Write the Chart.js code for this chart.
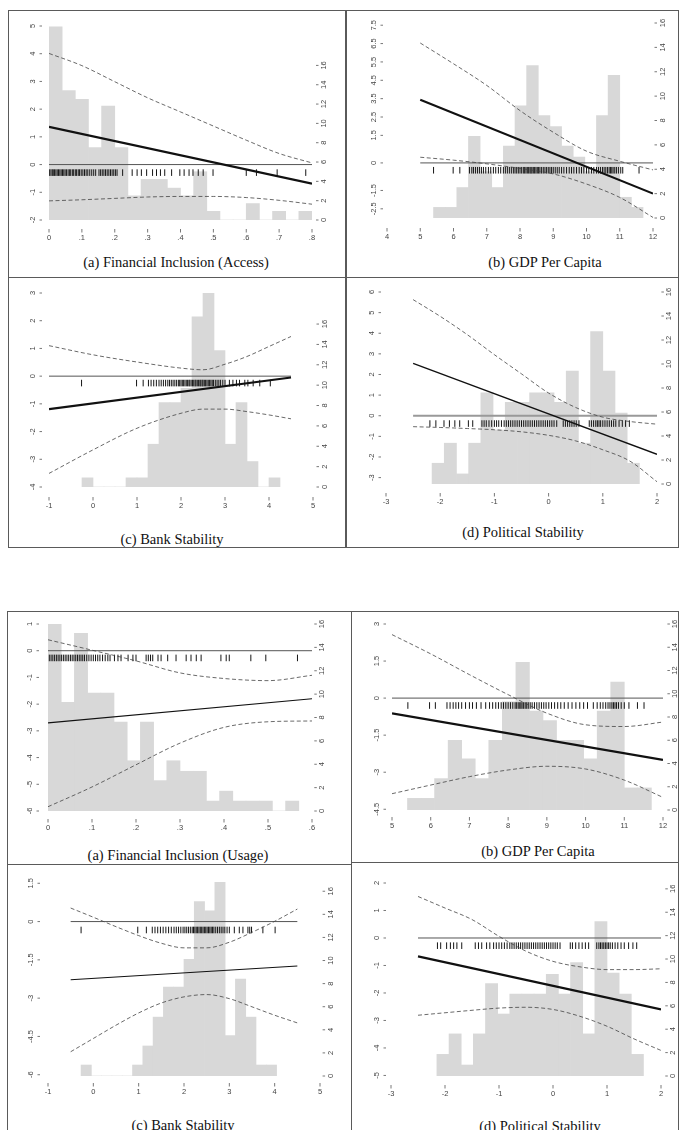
<!DOCTYPE html>
<html>
<head>
<meta charset="utf-8">
<script src="https://cdn.jsdelivr.net/npm/chart.js@4.4.0/dist/chart.umd.min.js"></script>
<style>
  body { margin: 0; background: #fff; width: 679px; height: 1130px; position: relative; overflow: hidden; }
  .frame { position: absolute; border: 1.5px solid #5a5a5a; box-sizing: border-box; }
  .title { position: absolute; font: 14.5px "Liberation Serif", "Times New Roman", serif; color: #111;
           white-space: nowrap; line-height: 15px; transform: translate(-50%, -50%); }
</style>
</head>
<body>
<script>
// shared axis ticks
const freqTicks = [0, 2, 4, 6, 8, 10, 12, 14, 16];

// (a) Financial Inclusion (Access)
const accXTicks = [0, 0.1, 0.2, 0.3, 0.4, 0.5, 0.6, 0.7, 0.8];
const accYTicks = [-2, -1, 0, 1, 2, 3, 4, 5];
const accBins = [0.02, 0.06, 0.10, 0.14, 0.18, 0.22, 0.26, 0.30, 0.34, 0.38, 0.42, 0.46, 0.50, 0.54, 0.58, 0.62, 0.66, 0.70, 0.74, 0.78];
const accCounts = [20, 13.4, 12.5, 7.5, 11.8, 7.5, 2.5, 4.2, 4.2, 3.3, 2.5, 5, 0.9, 0, 0, 1.7, 0, 0.9, 0, 0.9];
const accRug = [0.002, 0.006, 0.010, 0.013, 0.017, 0.021, 0.025, 0.029, 0.033, 0.037, 0.041, 0.045, 0.049, 0.053,
  0.058, 0.062, 0.066, 0.071, 0.075, 0.080, 0.084, 0.089, 0.093, 0.098, 0.103, 0.108, 0.113, 0.118, 0.124, 0.130,
  0.136, 0.142, 0.152, 0.157, 0.162, 0.167, 0.172, 0.177, 0.182, 0.187, 0.192, 0.197, 0.202, 0.207, 0.224,
  0.253, 0.268, 0.281, 0.297, 0.315, 0.327, 0.339, 0.352, 0.373, 0.398, 0.411, 0.426, 0.438, 0.454, 0.469,
  0.499, 0.600, 0.631, 0.694, 0.781];
const accCiX = [0, 0.1, 0.2, 0.3, 0.4, 0.5, 0.6, 0.7, 0.8];
const accUpper = [4.01, 3.57, 2.99, 2.41, 1.90, 1.39, 0.88, 0.40, 0.06];
const accLower = [-1.31, -1.27, -1.22, -1.17, -1.15, -1.15, -1.19, -1.29, -1.43];
const accEstX = [0, 0.8];
const accEst = [1.36, -0.69];

// (b) GDP Per Capita, access model
const gdpXTicks1 = [4, 5, 6, 7, 8, 9, 10, 11, 12];
const gdpYTicks1 = [-2.5, -1.5, 0, 1.5, 2.5, 3.5, 4.5, 5.5, 6.5, 7.5];
const gdpBins = [5.575, 5.925, 6.275, 6.625, 6.975, 7.325, 7.675, 8.025, 8.375, 8.725, 9.075, 9.425, 9.775, 10.125, 10.475, 10.825, 11.175, 11.525];
const gdpCounts1 = [0.87, 0.87, 2.5, 6.7, 3.8, 2.5, 5.9, 9.2, 12.5, 8.4, 7.5, 5.9, 5.0, 3.8, 8.4, 11.7, 1.7, 0.87];
const gdpRug1 = [5.40, 5.99, 6.19, 6.48, 6.55, 6.6, 6.66, 6.72, 6.78, 6.84, 6.9, 6.97, 7.05, 7.12, 7.2, 7.27, 7.35,
  7.42, 7.5, 7.56, 7.62, 7.68, 7.74, 7.8, 7.85, 7.9, 7.95, 8.0, 8.05, 8.1, 8.14, 8.18, 8.22, 8.26, 8.3, 8.33, 8.36,
  8.4, 8.44, 8.48, 8.52, 8.56, 8.6, 8.65, 8.7, 8.75, 8.8, 8.85, 8.9, 8.95, 9.0, 9.06, 9.12, 9.18, 9.25, 9.32, 9.4,
  9.48, 9.55, 9.62, 9.7, 9.78, 9.85, 9.92, 10.0, 10.07, 10.15, 10.22, 10.3, 10.36, 10.42, 10.48, 10.53, 10.58,
  10.63, 10.68, 10.72, 10.76, 10.8, 10.85, 10.9, 10.96, 11.03, 11.09, 11.58];
const gdpCiX = [5, 6, 7, 8, 9, 10, 11, 12];
const gdpUpper1 = [6.53, 5.40, 4.22, 2.85, 1.67, 0.64, 0.09, -0.38];
const gdpLower1 = [0.31, 0.15, -0.05, -0.30, -0.60, -1.15, -1.88, -2.97];
const gdpEstX = [5, 12];
const gdpEst1 = [3.44, -1.67];

// (c) Bank Stability, access model
const bankXTicks = [-1, 0, 1, 2, 3, 4, 5];
const bankYTicks1 = [-4, -3, -2, -1, 0, 1, 2, 3];
const bankBins1 = [-0.125, 0.125, 0.375, 0.625, 0.875, 1.125, 1.375, 1.625, 1.875, 2.125, 2.375, 2.625, 2.875, 3.125, 3.375, 3.625, 3.875, 4.125];
const bankCounts1 = [0.9, 0, 0, 0, 0.9, 0.9, 4.2, 8.3, 8.3, 9.7, 16.7, 19.1, 13.4, 4.2, 8.3, 2.5, 0, 0.9];
const bankRug1 = [-0.26, 0.99, 1.14, 1.26, 1.32, 1.38, 1.44, 1.5, 1.55, 1.6, 1.65, 1.7, 1.74, 1.78, 1.82, 1.86, 1.9,
  1.94, 1.97, 2.0, 2.03, 2.06, 2.09, 2.12, 2.15, 2.18, 2.2, 2.23, 2.26, 2.29, 2.32, 2.34, 2.37, 2.4, 2.43, 2.45,
  2.48, 2.5, 2.53, 2.56, 2.59, 2.62, 2.65, 2.68, 2.71, 2.74, 2.78, 2.82, 2.86, 2.9, 2.95, 3.0, 3.1, 3.18, 3.26,
  3.33, 3.45, 3.52, 3.64, 3.79, 4.03];
const bankCiX1 = [-1, 0, 1, 2, 2.5, 3, 3.5, 4, 4.5];
const bankUpper1 = [1.10, 0.77, 0.51, 0.29, 0.23, 0.43, 0.71, 1.07, 1.43];
const bankLower1 = [-3.51, -2.66, -1.88, -1.34, -1.19, -1.19, -1.28, -1.40, -1.54];
const bankEstX1 = [-1, 4.5];
const bankEst1 = [-1.19, -0.05];

// (d) Political Stability, access model
const polXTicks = [-3, -2, -1, 0, 1, 2];
const polYTicks1 = [-3, -2, -1, 0, 1, 2, 3, 4, 5, 6];
const polBins = [-2.0375, -1.8125, -1.5875, -1.3625, -1.1375, -0.9125, -0.6875, -0.4625, -0.2375, -0.0125, 0.2125, 0.4375, 0.6625, 0.8875, 1.1125, 1.3375, 1.5625];
const polCounts1 = [1.73, 3.4, 0.84, 3.4, 7.6, 4.5, 6.8, 6.8, 7.6, 7.6, 6.8, 9.4, 3.4, 12.7, 9.4, 5.9, 1.73];
const polRug1 = [-2.19, -2.08, -1.93, -1.83, -1.73, -1.64, -1.48, -1.4, -1.23, -1.19, -1.15, -1.1, -1.05, -1.0, -0.96,
  -0.92, -0.87, -0.82, -0.78, -0.74, -0.7, -0.66, -0.62, -0.58, -0.54, -0.5, -0.46, -0.42, -0.38, -0.34, -0.3,
  -0.26, -0.22, -0.18, -0.14, -0.1, -0.06, -0.02, 0.02, 0.06, 0.1, 0.15, 0.27, 0.31, 0.35, 0.39, 0.43, 0.47, 0.51,
  0.56, 0.75, 0.79, 0.83, 0.87, 0.9, 0.93, 0.96, 1.0, 1.04, 1.08, 1.12, 1.16, 1.2, 1.24, 1.3, 1.36, 1.42, 1.49];
const polCiX = [-2.5, -2, -1.5, -1, -0.5, 0, 0.5, 1, 1.5, 2];
const polUpper1 = [5.63, 4.82, 3.93, 2.96, 2.03, 1.10, 0.40, -0.07, -0.28, -0.41];
const polLower1 = [-0.53, -0.57, -0.62, -0.68, -0.78, -0.95, -1.22, -1.65, -2.2, -3.2];
const polEstX = [-2.5, 2];
const polEst1 = [2.54, -1.87];

// (a) Financial Inclusion (Usage)
const useXTicks = [0, 0.1, 0.2, 0.3, 0.4, 0.5, 0.6];
const useYTicks = [-6, -5, -4, -3, -2, -1, 0, 1];
const useBins = [0.015, 0.045, 0.075, 0.105, 0.135, 0.165, 0.195, 0.225, 0.255, 0.285, 0.315, 0.345, 0.375, 0.405, 0.435, 0.465, 0.495, 0.525, 0.555];
const useCounts = [16.0, 9.3, 15.2, 10.1, 10.1, 7.6, 4.3, 7.6, 2.6, 4.3, 3.4, 3.4, 0.85, 1.7, 0.85, 0.85, 0.85, 0, 0.85];
const useRug = [0.003, 0.007, 0.011, 0.015, 0.019, 0.023, 0.027, 0.031, 0.035, 0.039, 0.043, 0.047, 0.051, 0.055,
  0.059, 0.063, 0.067, 0.071, 0.075, 0.079, 0.083, 0.088, 0.093, 0.098, 0.103, 0.108, 0.113, 0.118, 0.124, 0.13,
  0.136, 0.141, 0.151, 0.159, 0.166, 0.182, 0.193, 0.2, 0.223, 0.228, 0.233, 0.238, 0.25, 0.257, 0.272, 0.291,
  0.314, 0.325, 0.337, 0.348, 0.393, 0.405, 0.412, 0.461, 0.495, 0.567];
const useCiX = [0, 0.1, 0.2, 0.3, 0.4, 0.5, 0.6];
const useUpper = [0.41, 0.02, -0.38, -0.83, -1.04, -1.12, -0.92];
const useLower = [-5.84, -5.10, -4.27, -3.46, -2.87, -2.66, -2.63];
const useEstX = [0, 0.6];
const useEst = [-2.70, -1.80];

// (b) GDP Per Capita, usage model
const gdpXTicks2 = [5, 6, 7, 8, 9, 10, 11, 12];
const gdpYTicks2 = [-4.5, -3, -1.5, 0, 1.5, 3];
const gdpCounts2 = [1.0, 1.0, 2.7, 6.0, 4.4, 2.7, 6.0, 9.3, 12.7, 8.5, 7.7, 6.0, 6.0, 4.4, 8.5, 11.0, 1.9, 1.9];
const gdpRug2 = [5.41, 5.97, 6.12, 6.42, 6.5, 6.58, 6.65, 6.72, 6.8, 6.9, 7.0, 7.08, 7.18, 7.3, 7.42, 7.52, 7.6,
  7.68, 7.75, 7.82, 7.88, 7.94, 8.0, 8.06, 8.12, 8.18, 8.22, 8.26, 8.3, 8.33, 8.36, 8.4, 8.44, 8.48, 8.52, 8.57,
  8.62, 8.68, 8.74, 8.8, 8.86, 8.92, 8.98, 9.05, 9.12, 9.2, 9.28, 9.36, 9.45, 9.55, 9.65, 9.75, 9.85, 9.95, 10.05,
  10.2, 10.3, 10.38, 10.45, 10.52, 10.58, 10.63, 10.68, 10.72, 10.76, 10.8, 10.85, 10.92, 11.0, 11.12, 11.34, 11.51];
const gdpUpper2 = [2.57, 1.79, 0.95, 0.14, -0.61, -1.08, -1.15, -0.97];
const gdpLower2 = [-3.87, -3.52, -3.18, -2.91, -2.76, -2.87, -3.32, -4.02];
const gdpEst2 = [-0.62, -2.50];

// (c) Bank Stability, usage model
const bankYTicks2 = [-6, -4.5, -3, -1.5, 0, 1.5];
const bankBins2 = [-0.157, 0.07, 0.297, 0.524, 0.751, 0.978, 1.205, 1.432, 1.659, 1.886, 2.113, 2.34, 2.567, 2.794, 3.021, 3.248, 3.475, 3.702, 3.929];
const bankCounts2 = [0.95, 0, 0, 0, 0, 0.95, 2.6, 5.1, 7.7, 7.7, 10.1, 15.1, 14.3, 16.8, 3.5, 8.4, 5.1, 0.95, 0.95];
const bankRug2 = [-0.27, 0.98, 1.17, 1.3, 1.36, 1.42, 1.48, 1.54, 1.6, 1.66, 1.72, 1.78, 1.83, 1.88, 1.93, 1.98,
  2.02, 2.06, 2.1, 2.14, 2.18, 2.21, 2.24, 2.27, 2.3, 2.33, 2.36, 2.39, 2.42, 2.45, 2.48, 2.51, 2.54, 2.57, 2.6,
  2.63, 2.66, 2.7, 2.74, 2.78, 2.82, 2.86, 2.9, 2.95, 3.0, 3.11, 3.22, 3.3, 3.41, 3.45, 3.49, 3.74, 4.01];
const bankCiX2 = [-0.5, 0, 0.5, 1, 1.5, 2, 2.5, 3, 3.5, 4, 4.5];
const bankUpper2 = [0.53, 0.17, -0.20, -0.55, -0.85, -1.03, -1.03, -0.81, -0.42, 0.01, 0.49];
const bankLower2 = [-5.10, -4.58, -4.06, -3.58, -3.19, -2.95, -2.86, -3.02, -3.34, -3.67, -3.97];
const bankEstX2 = [-0.5, 4.5];
const bankEst2 = [-2.28, -1.74];

// (d) Political Stability, usage model
const polYTicks2 = [-5, -4, -3, -2, -1, 0, 1, 2];
const polCounts2 = [1.85, 3.6, 0.94, 3.6, 7.9, 5.3, 7.0, 7.0, 7.0, 8.7, 7.0, 9.7, 3.6, 13.2, 8.8, 7.0, 1.85];
const polRug2 = [-2.14, -2.08, -1.97, -1.9, -1.84, -1.78, -1.69, -1.44, -1.38, -1.32, -1.23, -1.17, -1.1, -1.05,
  -1.0, -0.95, -0.9, -0.85, -0.8, -0.76, -0.72, -0.68, -0.64, -0.6, -0.56, -0.52, -0.48, -0.44, -0.4, -0.36, -0.32,
  -0.28, -0.24, -0.2, -0.16, -0.12, -0.08, -0.04, 0.0, 0.04, 0.08, 0.13, 0.32, 0.36, 0.42, 0.48, 0.54, 0.6, 0.66,
  0.81, 0.85, 0.88, 0.91, 0.94, 0.97, 1.0, 1.03, 1.06, 1.1, 1.15, 1.2, 1.26, 1.32, 1.4, 1.48, 1.55];
const polUpper2 = [1.51, 1.09, 0.67, 0.06, -0.48, -0.85, -1.05, -1.15, -1.15, -1.12];
const polLower2 = [-2.81, -2.72, -2.63, -2.55, -2.52, -2.60, -2.85, -3.21, -3.67, -4.09];
const polEst2 = [-0.67, -2.60];

// Stata-like number labels: 0.1 -> ".1"
const fmt = v => String(v).replace(/^(-?)0\./, '$1.');

// axes drawn by hand so labels can be rotated like the original
const stataAxes = {
  id: 'stataAxes',
  afterDraw(chart, args, o) {
    const { ctx, chartArea: a, scales } = chart;
    const seg = (x1, y1, x2, y2) => { ctx.beginPath(); ctx.moveTo(x1, y1); ctx.lineTo(x2, y2); ctx.stroke(); };
    const vtext = (t, x, y) => { ctx.save(); ctx.translate(x, y); ctx.rotate(-Math.PI / 2); ctx.fillText(t, 0, 0); ctx.restore(); };
    ctx.save();
    ctx.strokeStyle = '#555';
    ctx.fillStyle = '#444';
    ctx.lineWidth = 0.8;
    ctx.font = '7.5px "Liberation Sans", Arial, sans-serif';
    ctx.textAlign = 'center';
    ctx.textBaseline = 'middle';
    o.xTicks.forEach(v => {
      const px = scales.x.getPixelForValue(v);
      seg(px, a.bottom + o.bo, px, a.bottom + o.bo + 3.5);
      ctx.fillText(fmt(v), px, a.bottom + o.bo + 9);
    });
    o.yTicks.forEach(v => {
      const py = scales.y.getPixelForValue(v);
      seg(a.left + o.lo, py, a.left + o.lo - 2.5, py);
      vtext(fmt(v), a.left + o.lo - 9, py);
    });
    freqTicks.forEach(v => {
      const py = scales.y2.getPixelForValue(v);
      seg(a.right + o.ro, py, a.right + o.ro + 2.5, py);
      vtext(fmt(v), a.right + o.ro + 8, py);
    });
    ctx.restore();
  }
};

const panels = [
  { area: [49, 312, 25.7, 219.3], x: [0, 0.8], y: [-2, 5], y2: [0, 20.08], xTicks: accXTicks, yTicks: accYTicks,
    bins: accBins, counts: accCounts, rug: accRug, rugY: -0.29, ciX: accCiX, upper: accUpper, lower: accLower,
    estX: accEstX, est: accEst, estW: 2.2, zeroC: '#555', zeroW: 1, off: { lo: -7, ro: 4, bo: 9 },
    title: '(a) Financial Inclusion (Access)', tx: 176, ty: 262 },
  { area: [386.7, 652.3, 22.6, 217.3], x: [4, 12], y: [-3, 7.62], y2: [0, 16], xTicks: gdpXTicks1, yTicks: gdpYTicks1,
    bins: gdpBins, counts: gdpCounts1, rug: gdpRug1, rugY: -0.40, ciX: gdpCiX, upper: gdpUpper1, lower: gdpLower1,
    estX: gdpEstX, est: gdpEst1, estW: 2.2, zeroC: '#555', zeroW: 1, off: { lo: -4, ro: 1.5, bo: 10 },
    title: '(b) GDP Per Capita', tx: 545, ty: 262 },
  { area: [49, 313.3, 293.3, 487], x: [-1, 5], y: [-4, 3], y2: [0, 19.05], xTicks: bankXTicks, yTicks: bankYTicks1,
    bins: bankBins1, counts: bankCounts1, rug: bankRug1, rugY: -0.25, ciX: bankCiX1, upper: bankUpper1, lower: bankLower1,
    estX: bankEstX1, est: bankEst1, estW: 2.2, zeroC: '#555', zeroW: 1, off: { lo: -7, ro: 3.5, bo: 10 },
    title: '(c) Bank Stability', tx: 172, ty: 539 },
  { area: [386, 657.3, 292.3, 484], x: [-3, 2], y: [-3.31, 6], y2: [0, 16], xTicks: polXTicks, yTicks: polYTicks1,
    bins: polBins, counts: polCounts1, rug: polRug1, rugY: -0.38, ciX: polCiX, upper: polUpper1, lower: polLower1,
    estX: polEstX, est: polEst1, estW: 1.3, zeroC: '#999', zeroW: 2, off: { lo: -5, ro: 4.4, bo: 9 },
    title: '(d) Political Stability', tx: 523, ty: 532 },
  { area: [48.3, 312.7, 624.3, 811.7], x: [0, 0.6], y: [-6, 1], y2: [0, 16], xTicks: useXTicks, yTicks: useYTicks,
    bins: useBins, counts: useCounts, rug: useRug, rugY: -0.27, ciX: useCiX, upper: useUpper, lower: useLower,
    estX: useEstX, est: useEst, estW: 1.1, zeroC: '#555', zeroW: 1, off: { lo: -9, ro: 2.3, bo: 8 },
    title: '(a) Financial Inclusion (Usage)', tx: 178, ty: 855 },
  { area: [391.7, 662.3, 624.3, 810], x: [5, 12], y: [-4.53, 3], y2: [0, 16], xTicks: gdpXTicks2, yTicks: gdpYTicks2,
    bins: gdpBins, counts: gdpCounts2, rug: gdpRug2, rugY: -0.30, ciX: gdpCiX, upper: gdpUpper2, lower: gdpLower2,
    estX: gdpEstX, est: gdpEst2, estW: 2.2, zeroC: '#555', zeroW: 1, off: { lo: -6, ro: 4.4, bo: 7 },
    title: '(b) GDP Per Capita', tx: 538, ty: 851 },
  { area: [48.3, 320.7, 881.7, 1076], x: [-1, 5], y: [-6.05, 1.55], y2: [0, 16.8], xTicks: bankXTicks, yTicks: bankYTicks2,
    bins: bankBins2, counts: bankCounts2, rug: bankRug2, rugY: -0.33, ciX: bankCiX2, upper: bankUpper2, lower: bankLower2,
    estX: bankEstX2, est: bankEst2, estW: 1.1, zeroC: '#555', zeroW: 1, off: { lo: -8, ro: 2.6, bo: 7 },
    title: '(c) Bank Stability', tx: 183, ty: 1125 },
  { area: [391, 660.7, 883.3, 1076.7], x: [-3, 2], y: [-5.02, 2], y2: [0, 16.5], xTicks: polXTicks, yTicks: polYTicks2,
    bins: polBins, counts: polCounts2, rug: polRug2, rugY: -0.28, ciX: polCiX, upper: polUpper2, lower: polLower2,
    estX: polEstX, est: polEst2, estW: 2.2, zeroC: '#555', zeroW: 1, off: { lo: -5, ro: 4.3, bo: 9 },
    title: '(d) Political Stability', tx: 540, ty: 1126 }
];

const frames = [
  [8, 10, 338, 268], [346, 10, 333, 268], [8, 277, 338, 271], [346, 277, 333, 271],
  [7, 611, 345, 254], [351, 611, 328, 252], [7, 864, 345, 280], [351, 862, 328, 280]
];

frames.forEach(([l, t, w, h]) => {
  const d = document.createElement('div');
  d.className = 'frame';
  d.style.cssText = `left:${l}px;top:${t}px;width:${w}px;height:${h}px`;
  document.body.appendChild(d);
});

const pts = (xs, ys) => xs.map((x, i) => ({ x, y: ys[i] }));

function makePanel(p) {
  const [l, r, t, b] = p.area;
  const pad = { left: 30, right: 30, top: 20, bottom: 32 };
  const w = Math.round(r - l) + pad.left + pad.right;
  const h = Math.round(b - t) + pad.top + pad.bottom;
  const cv = document.createElement('canvas');
  cv.width = w;
  cv.height = h;
  cv.style.cssText = `position:absolute;left:${Math.round(l) - pad.left}px;top:${Math.round(t) - pad.top}px;width:${w}px;height:${h}px`;
  document.body.appendChild(cv);

  const x0 = p.ciX[0], x1 = p.ciX[p.ciX.length - 1];
  new Chart(cv, {
    type: 'scatter',
    data: {
      datasets: [
        { type: 'line', data: pts(p.estX, p.est), borderColor: '#111', borderWidth: p.estW, pointRadius: 0, order: 0 },
        { type: 'line', data: pts(p.ciX, p.upper), borderColor: '#444', borderWidth: 0.8, borderDash: [4, 2.5],
          pointRadius: 0, cubicInterpolationMode: 'monotone', order: 0 },
        { type: 'line', data: pts(p.ciX, p.lower), borderColor: '#444', borderWidth: 0.8, borderDash: [4, 2.5],
          pointRadius: 0, cubicInterpolationMode: 'monotone', order: 0 },
        { type: 'line', data: [{ x: x0, y: 0 }, { x: x1, y: 0 }], borderColor: p.zeroC, borderWidth: p.zeroW,
          pointRadius: 0, order: 1 },
        { type: 'scatter', data: p.rug.map(v => ({ x: v, y: p.rugY })), pointStyle: 'line', pointRotation: 90,
          pointRadius: 3.3, pointBorderWidth: 1, pointBorderColor: '#151515', borderColor: '#151515', order: 2 },
        { type: 'bar', data: pts(p.bins, p.counts), yAxisID: 'y2', backgroundColor: '#d8d8d8', borderWidth: 0,
          barPercentage: 1, categoryPercentage: 1, order: 5 }
      ]
    },
    options: {
      responsive: false,
      animation: false,
      events: [],
      layout: { padding: pad },
      scales: {
        x: { type: 'linear', min: p.x[0], max: p.x[1], offset: false, grid: { offset: false }, display: false },
        y: { type: 'linear', min: p.y[0], max: p.y[1], display: false },
        y2: { type: 'linear', position: 'right', min: p.y2[0], max: p.y2[1], display: false }
      },
      plugins: {
        legend: { display: false },
        tooltip: { enabled: false },
        stataAxes: { xTicks: p.xTicks, yTicks: p.yTicks, ...p.off }
      }
    },
    plugins: [stataAxes]
  });

  const tl = document.createElement('div');
  tl.className = 'title';
  tl.textContent = p.title;
  tl.style.left = p.tx + 'px';
  tl.style.top = p.ty + 'px';
  document.body.appendChild(tl);
}

panels.forEach(makePanel);
</script>
</body>
</html>
